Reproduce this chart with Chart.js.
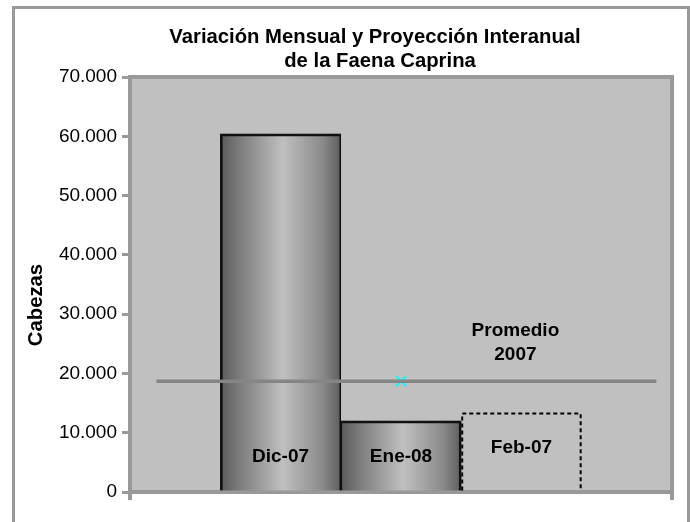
<!DOCTYPE html>
<html>
<head>
<meta charset="utf-8">
<script src="https://cdn.jsdelivr.net/npm/chart.js@4.4.0/dist/chart.umd.min.js"></script>
<style>
  html, body { margin: 0; padding: 0; background: #fff; overflow: hidden; }
  #wrap { position: relative; width: 690px; height: 522px; }
  #frame { position: absolute; left: 12px; top: 6px; width: 678px; height: 600px;
           box-sizing: border-box; border: 3px solid #999; }
  #chart { position: absolute; left: 0; top: 0; }
</style>
</head>
<body>
<div id="wrap">
  <div id="frame"></div>
  <canvas id="chart" width="690" height="522"></canvas>
</div>
<script>
// --- data ---
const titleLines = ['Variación Mensual y Proyección Interanual', 'de la Faena Caprina'];
const yAxisTitle = 'Cabezas';
const months     = ['Dic-07', 'Ene-08', 'Feb-07'];
const heads      = [60400, 12000, 13400];
const projected  = [false, false, true];      // Feb-07 is the projection (dashed outline)
const avgLabel   = ['Promedio', '2007'];
const avg2007    = 18700;
const avgSpan    = [-0.03, 4.12];             // average line start / end, in month slots
const avgMark    = 2;                         // marker sits over the middle month
const yMax       = 70000;
const yStep      = 10000;

const FONT = "'Liberation Sans', Arial, sans-serif";
const labelLift = [34, 34, 43];               // label height above the base, px
// adjacent bars share one thin edge instead of two
const barEdges = [
  { top: 2, left: 2, right: 1, bottom: 0 },
  { top: 2, left: 1, right: 2, bottom: 0 },
  0,
];

// 70000 -> "70.000"
const fmt = v => String(v).replace(/\B(?=(\d{3})+(?!\d))/g, '.');

// grey plot area with its frame
const plotFrame = {
  id: 'plotFrame',
  beforeDraw(chart) {
    const { ctx, chartArea: a } = chart;
    ctx.save();
    ctx.fillStyle = '#c0c0c0';
    ctx.fillRect(a.left, a.top, a.width, a.height);
    ctx.strokeStyle = '#999';
    ctx.lineWidth = 4;
    ctx.strokeRect(a.left, a.top, a.width, a.height);
    ctx.restore();
  },
};

// cylinder-like shading inside the solid bars
const barShade = {
  id: 'barShade',
  beforeDatasetsDraw(chart) {
    const ctx = chart.ctx;
    const bars = chart.getDatasetMeta(0).data;
    ctx.save();
    bars.forEach((el, i) => {
      if (projected[i]) return;
      const { x, y, base, width } = el.getProps(['x', 'y', 'base', 'width'], true);
      const x0 = x - width / 2;
      const g = ctx.createLinearGradient(x0, 0, x0 + width, 0);
      g.addColorStop(0,    '#5a5a5a');
      g.addColorStop(0.15, '#7a7a7a');
      g.addColorStop(0.52, '#c0c0c0');
      g.addColorStop(0.85, '#8a8a8a');
      g.addColorStop(1,    '#5e5e5e');
      ctx.fillStyle = g;
      ctx.fillRect(x0, y, width, base - y);
    });
    ctx.restore();
  },
};

// dashed outline of the projection, labels inside the bars, average label
const barNotes = {
  id: 'barNotes',
  afterDatasetsDraw(chart) {
    const ctx = chart.ctx;
    const bars = chart.getDatasetMeta(0).data;
    ctx.save();
    ctx.fillStyle = '#000';
    ctx.font = `bold 19px ${FONT}`;
    ctx.textAlign = 'center';
    ctx.textBaseline = 'middle';
    bars.forEach((el, i) => {
      const { x, y, base, width } = el.getProps(['x', 'y', 'base', 'width'], true);
      if (projected[i]) {
        const l = x - width / 2 + 1, r = x + width / 2 - 1;
        ctx.strokeStyle = '#000';
        ctx.lineWidth = 2;
        ctx.setLineDash([4, 3]);
        ctx.beginPath();
        ctx.moveTo(l, base);
        ctx.lineTo(l, y + 1);
        ctx.lineTo(r, y + 1);
        ctx.lineTo(r, base);
        ctx.stroke();
        ctx.setLineDash([]);
      }
      ctx.fillText(months[i], x, base - labelLift[i]);
    });
    const lx = chart.scales.xBars.getPixelForValue(2.95);
    const ly = chart.scales.y.getPixelForValue(avg2007);
    ctx.fillText(avgLabel[0], lx, ly - 50);
    ctx.fillText(avgLabel[1], lx, ly - 26);
    ctx.restore();
  },
};

// title and rotated axis title
const texts = {
  id: 'texts',
  afterDraw(chart) {
    const ctx = chart.ctx;
    ctx.save();
    ctx.fillStyle = '#000';
    ctx.textAlign = 'center';
    ctx.textBaseline = 'alphabetic';
    ctx.font = `bold 20.3px ${FONT}`;
    ctx.fillText(titleLines[0], 375, 43);
    ctx.fillText(titleLines[1], 380, 67);
    ctx.textBaseline = 'middle';
    ctx.translate(36, 305);
    ctx.rotate(-Math.PI / 2);
    ctx.fillText(yAxisTitle, 0, 0);
    ctx.restore();
  },
};

new Chart(document.getElementById('chart'), {
  type: 'bar',
  data: {
    labels: [''],
    datasets: [
      {
        label: 'Faena caprina',
        xAxisID: 'xBars',
        data: heads.map((v, i) => ({ x: i + 1, y: v })),
        backgroundColor: 'rgba(0,0,0,0)',
        borderColor: projected.map(p => (p ? 'rgba(0,0,0,0)' : '#111')),
        borderWidth: barEdges,
        borderSkipped: false,
        categoryPercentage: 1,
        barPercentage: 1,
        order: 2,
      },
      {
        type: 'line',
        label: 'Promedio 2007 (marca)',
        xAxisID: 'xBars',
        data: [{ x: avgMark, y: avg2007 }],
        showLine: false,
        pointStyle: 'crossRot',
        pointRadius: 7,
        pointBorderColor: '#00ffff',
        pointBorderWidth: 2,
        order: 1,
      },
      {
        type: 'line',
        label: 'Promedio 2007',
        xAxisID: 'xBars',
        data: avgSpan.map(v => ({ x: v, y: avg2007 })),
        borderColor: '#858585',
        borderWidth: 3.5,
        pointRadius: 0,
        order: 0,
      },
    ],
  },
  options: {
    responsive: false,
    animation: false,
    layout: { padding: { top: 77, right: 18, bottom: 22, left: 0 } },
    plugins: { legend: { display: false }, tooltip: { enabled: false } },
    scales: {
      x: {
        type: 'category',
        offset: true,
        z: 1,
        ticks: { display: false },
        grid: { offset: true, drawOnChartArea: false, color: '#999', lineWidth: 4, tickLength: 8 },
        border: { color: '#999', width: 4 },
      },
      xBars: {
        type: 'linear', min: -0.25, max: 4.25, display: false,
        offset: false, grid: { offset: false },
        afterBuildTicks(s) { s.ticks = []; },
      },
      y: {
        min: 0,
        max: yMax,
        ticks: { stepSize: yStep, color: '#000', padding: 5, font: { family: FONT, size: 19 }, callback: v => fmt(v) },
        grid: { drawOnChartArea: false, color: '#999', lineWidth: 3, tickLength: 8 },
        border: { color: '#999', width: 4 },
        afterFit(s) { s.width = 130; },
      },
    },
  },
  plugins: [plotFrame, barShade, barNotes, texts],
});
</script>
</body>
</html>
